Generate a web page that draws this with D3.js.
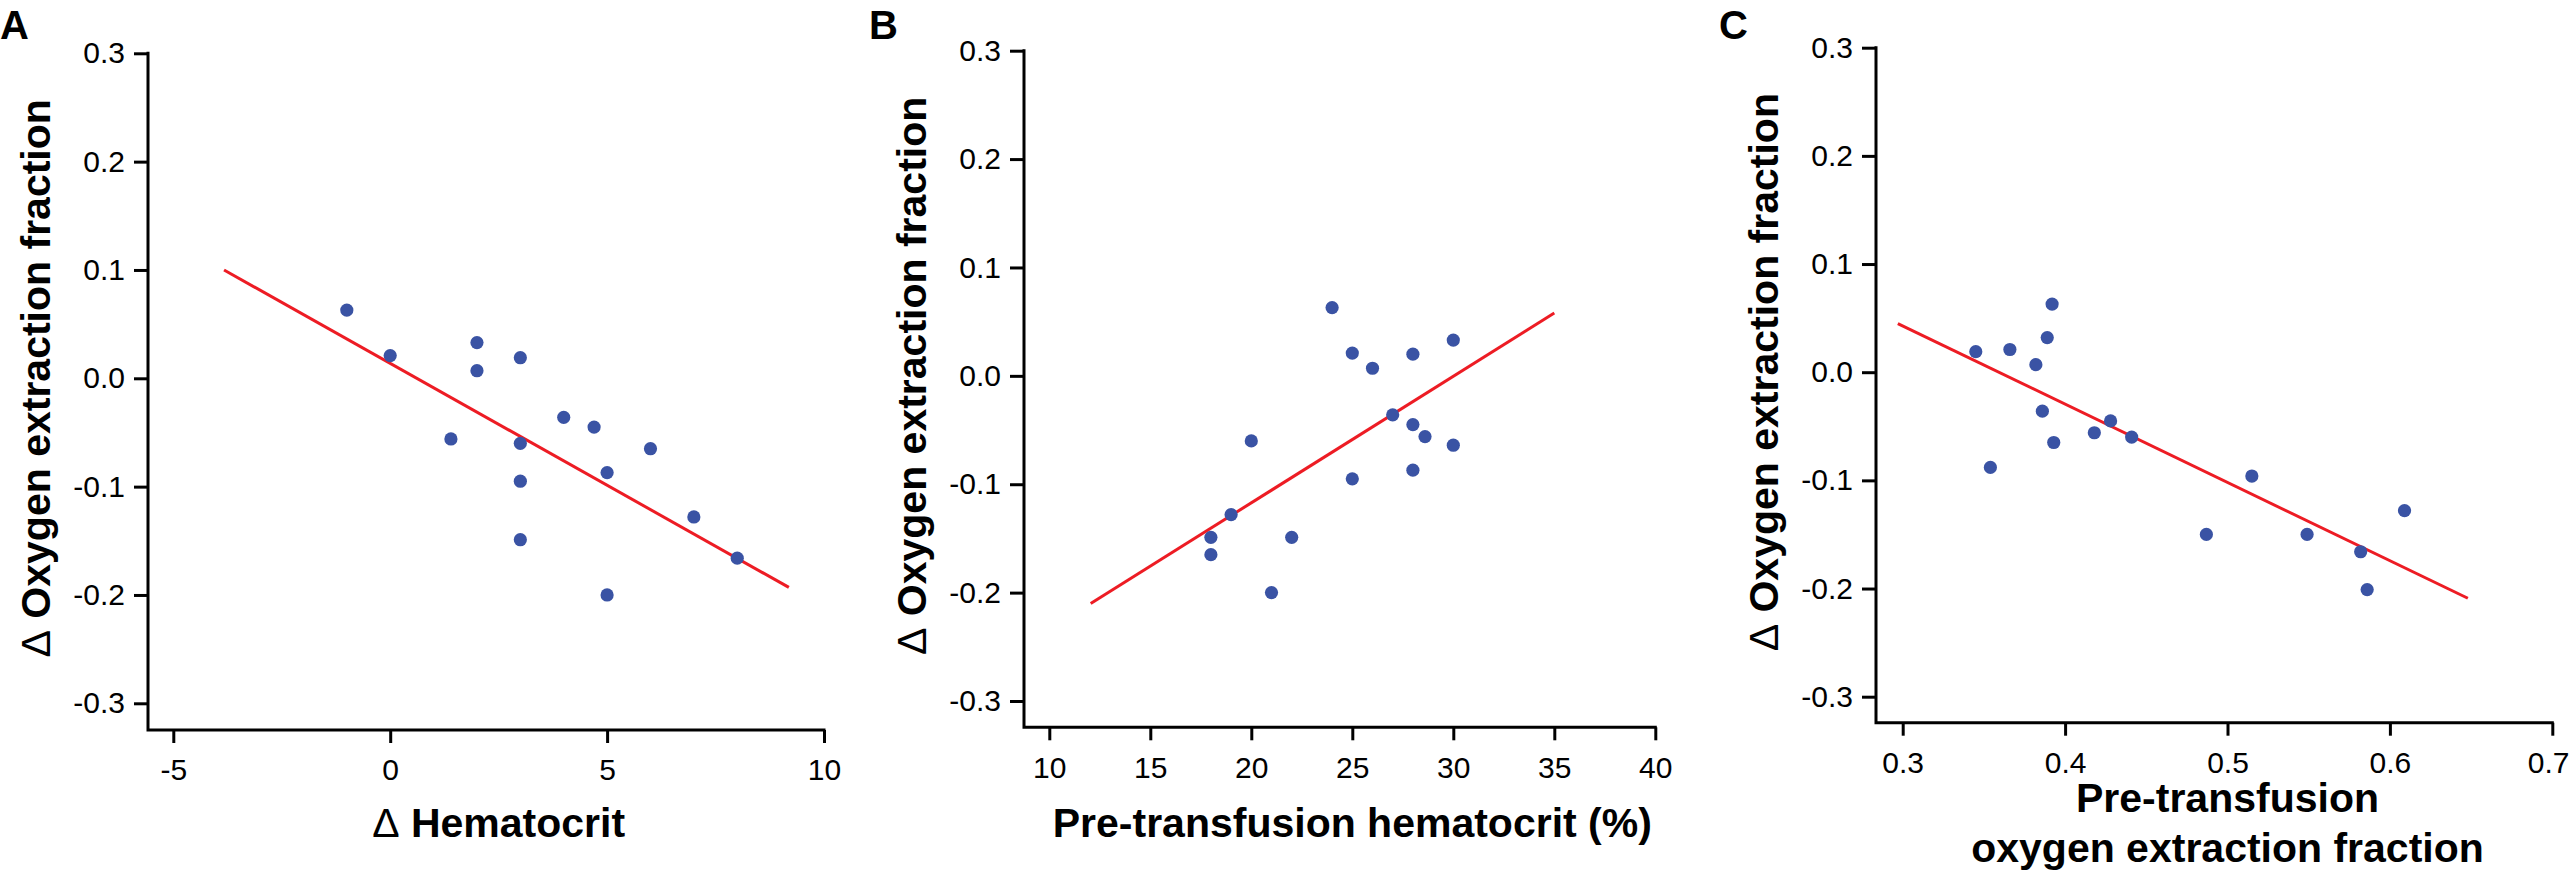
<!DOCTYPE html>
<html>
<head>
<meta charset="utf-8">
<script src="https://cdn.jsdelivr.net/npm/d3@7/dist/d3.min.js"></script>
<style>
  html, body { margin: 0; padding: 0; background: #fff; }
  svg { display: block; }
  text { font-family: "Liberation Sans", Arial, Helvetica, sans-serif; fill: #000; }
</style>
</head>
<body>
<svg id="chart" width="2571" height="878"></svg>
<script>
// ---------------- data ----------------
const yTicks = [-0.3, -0.2, -0.1, 0.0, 0.1, 0.2, 0.3];

// Panel A: Δ Hematocrit vs Δ OEF
const aX = [-1, 0, 2, 2, 1.4, 3, 3, 3, 3, 4, 4.7, 5, 5, 6, 7, 8];
const aY = [0.063, 0.021, 0.033, 0.007, -0.056, 0.019, -0.060, -0.095, -0.149, -0.036, -0.045, -0.087, -0.200, -0.065, -0.128, -0.166];
const aFitX = [-3.83, 9.19];
const aFitY = [0.100, -0.193];
const aXTicks = [-5, 0, 5, 10];

// Panel B: Pre-transfusion hematocrit vs Δ OEF
const bX = [24, 25, 26, 28, 30, 27, 28, 28.6, 30, 20, 28, 25, 19, 18, 18, 22, 21];
const bY = [0.063, 0.021, 0.007, 0.020, 0.033, -0.036, -0.045, -0.056, -0.064, -0.060, -0.087, -0.095, -0.128, -0.149, -0.165, -0.149, -0.200];
const bFitX = [12.05, 35.0];
const bFitY = [-0.210, 0.058];
const bXTicks = [10, 15, 20, 25, 30, 35, 40];

// Panel C: Pre-transfusion OEF vs Δ OEF
const cX = [0.392, 0.389, 0.345, 0.366, 0.382, 0.386, 0.393, 0.418, 0.428, 0.441, 0.354, 0.515, 0.487, 0.549, 0.609, 0.582, 0.586];
const cY = [0.063, 0.032, 0.019, 0.021, 0.007, -0.036, -0.065, -0.056, -0.045, -0.060, -0.088, -0.096, -0.150, -0.150, -0.128, -0.166, -0.201];
const cFitX = [0.297, 0.648];
const cFitY = [0.045, -0.209];
const cXTicks = [0.3, 0.4, 0.5, 0.6, 0.7];

// ---------------- drawing ----------------
const W = 2571;
const svg = d3.select("#chart");
const locale = d3.formatLocale({decimal: ".", thousands: ",", grouping: [3], currency: ["", ""], minus: "-"});
const fmtY = locale.format(".1f");

const DOT = "#3a53a4", RED = "#ed1c24";
const TICK_FS = 30, TITLE_FS = 41;

const panels = [
  { label: "A", labelX: 0, xs: aX, ys: aY, fx: aFitX, fy: aFitY, xTicks: aXTicks,
    xFmt: locale.format("d"),
    axisX: 148, axisY: 730, xRange: [173.3, 824], yRange: [703.3, 53.3],
    xTitle: [["Δ", " Hematocrit"]] },
  { label: "B", labelX: 869, xs: bX, ys: bY, fx: bFitX, fy: bFitY, xTicks: bXTicks,
    xFmt: locale.format("d"),
    axisX: 1024, axisY: 727.3, xRange: [1049.3, 1655.3], yRange: [701, 50.7],
    xTitle: [[null, "Pre-transfusion hematocrit (%)"]] },
  { label: "C", labelX: 1719, xs: cX, ys: cY, fx: cFitX, fy: cFitY, xTicks: cXTicks,
    xFmt: locale.format(".1f"),
    axisX: 1876, axisY: 722.7, xRange: [1902.7, 2552.3], yRange: [696.7, 47.7],
    xTitle: [[null, "Pre-transfusion"], [null, "oxygen extraction fraction"]] }
];

panels.forEach(p => {
  const xDom = [p.xTicks[0], p.xTicks[p.xTicks.length - 1]];
  const x = d3.scaleLinear().domain(xDom).range(p.xRange);
  const y = d3.scaleLinear().domain([-0.3, 0.3]).range(p.yRange);
  const g = svg.append("g");

  // panel label
  g.append("text").attr("x", p.labelX).attr("y", 38.5)
    .attr("font-size", 40).attr("font-weight", "bold").text(p.label);

  // y axis
  const yAx = g.append("g").attr("transform", `translate(${p.axisX},0)`)
    .call(d3.axisLeft(y).tickValues(yTicks).tickFormat(fmtY).tickSize(14).tickPadding(9).tickSizeOuter(0));
  yAx.select(".domain").remove();
  yAx.selectAll(".tick line").attr("stroke", "#000").attr("stroke-width", 3);
  yAx.selectAll(".tick text").attr("font-size", TICK_FS).attr("font-family", "Liberation Sans, Arial, sans-serif").attr("fill", "#000");

  // x axis
  const xAx = g.append("g").attr("transform", `translate(0,${p.axisY})`)
    .call(d3.axisBottom(x).tickValues(p.xTicks).tickFormat(p.xFmt).tickSize(13).tickPadding(16).tickSizeOuter(0));
  xAx.select(".domain").remove();
  xAx.selectAll(".tick line").attr("stroke", "#000").attr("stroke-width", 3);
  xAx.selectAll(".tick text").attr("font-size", TICK_FS).attr("font-family", "Liberation Sans, Arial, sans-serif").attr("fill", "#000");
  // keep tick labels inside the page at the right edge
  xAx.selectAll(".tick").each(function(d) {
    const t = d3.select(this).select("text");
    const bb = t.node().getBBox();
    const right = x(d) + bb.x + bb.width;
    if (right > W - 2) t.attr("dx", (W - 2 - right) + "px");
  });

  // axis lines
  g.append("path")
    .attr("d", `M${p.axisX},${y(0.3)}V${p.axisY}H${x(xDom[1])}`)
    .attr("fill", "none").attr("stroke", "#000").attr("stroke-width", 3)
    .attr("stroke-linejoin", "miter").attr("stroke-linecap", "square");

  // regression line
  const line = d3.line().x(d => x(d[0])).y(d => y(d[1]));
  g.append("path").datum(d3.zip(p.fx, p.fy))
    .attr("d", line).attr("fill", "none").attr("stroke", RED).attr("stroke-width", 3);

  // points
  g.selectAll("circle.pt").data(d3.zip(p.xs, p.ys)).join("circle")
    .attr("class", "pt")
    .attr("cx", d => x(d[0])).attr("cy", d => y(d[1])).attr("r", 6.6)
    .attr("fill", DOT);

  // y title
  const yt = g.append("text")
    .attr("transform", `translate(${p.axisX - 98},${y(0)}) rotate(-90)`)
    .attr("text-anchor", "middle").attr("font-size", TITLE_FS).attr("font-weight", "bold");
  yt.append("tspan").attr("font-weight", "normal").text("Δ");
  yt.append("tspan").text(" Oxygen extraction fraction");

  // x title
  const cx = x((xDom[0] + xDom[1]) / 2);
  const lines = p.xTitle;
  const baseY = lines.length === 1 ? 836.7 : 811.7;
  lines.forEach((ln, i) => {
    const t = g.append("text").attr("x", cx).attr("y", baseY + i * 50)
      .attr("text-anchor", "middle").attr("font-size", TITLE_FS).attr("font-weight", "bold");
    if (ln[0]) t.append("tspan").attr("font-weight", "normal").text(ln[0]);
    t.append("tspan").text(ln[1]);
  });
});
</script>
</body>
</html>
